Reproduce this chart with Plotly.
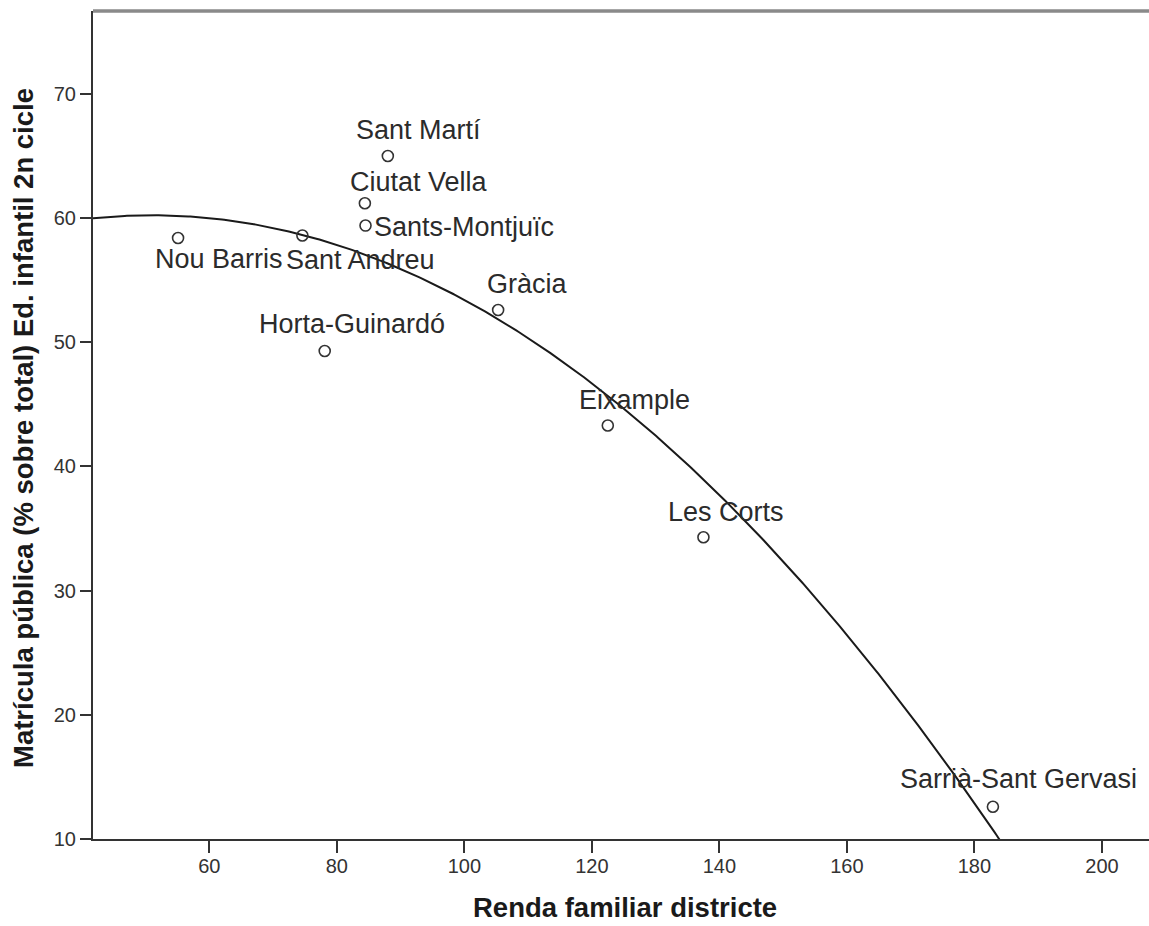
import numpy as np
import plotly.graph_objects as go

# ---- data ----
districts = ["Nou Barris", "Sant Andreu", "Sant Martí", "Ciutat Vella", "Sants-Montjuïc",
             "Horta-Guinardó", "Gràcia", "Eixample", "Les Corts", "Sarrià-Sant Gervasi"]
renda = [55.1, 74.6, 88.0, 84.4, 84.5, 78.1, 105.3, 122.5, 137.5, 182.9]
matricula = [58.4, 58.6, 65.0, 61.2, 59.4, 49.3, 52.6, 43.3, 34.3, 12.6]
x_ticks = [60, 80, 100, 120, 140, 160, 180, 200]
y_ticks = [10, 20, 30, 40, 50, 60, 70]
x_title = "Renda familiar districte"
y_title = "Matrícula pública (% sobre total) Ed. infantil 2n cicle"

# ---- style ----
x_range = [41.76, 207.38]
y_range = [10, 76.68]
label_dx = [-23, -16, -32, -15, 8, -66, -11, -29, -35, -93]
label_dy = [-21, -24, 26, 21, -1, 27, 26, 26, 25, 28]
FONT = "Liberation Sans, Arial, sans-serif"
DARK = "#333333"

# quadratic fit line (as in the original chart)
coef = np.polyfit(renda, matricula, 2)
xs = np.linspace(x_range[0], x_range[1], 500)
ys = np.polyval(coef, xs)

fig = go.Figure()
fig.add_trace(go.Scatter(x=xs, y=ys, mode="lines",
                         line=dict(color="#1a1a1a", width=2), hoverinfo="skip",
                         showlegend=False))
fig.add_trace(go.Scatter(x=renda, y=matricula, mode="markers",
                         marker=dict(symbol="circle-open", size=11,
                                     color=DARK, line=dict(width=1.6, color=DARK)),
                         showlegend=False, cliponaxis=False))

for name, xv, yv, dx, dy in zip(districts, renda, matricula, label_dx, label_dy):
    fig.add_annotation(x=xv, y=yv, xref="x", yref="y", text=name, showarrow=False,
                       xanchor="left", yanchor="middle", xshift=dx - 2, yshift=dy,
                       font=dict(family=FONT, size=27, color="#2b2b2b"))

# axis titles
fig.add_annotation(x=0.5, y=0, xref="paper", yref="paper", text="<b>%s</b>" % x_title,
                   showarrow=False, xanchor="center", yanchor="middle",
                   xshift=4, yshift=-68,
                   font=dict(family=FONT, size=27.5, color="#1a1a1a"))
fig.add_annotation(x=0, y=0.5, xref="paper", yref="paper", text="<b>%s</b>" % y_title,
                   showarrow=False, xanchor="center", yanchor="middle", textangle=-90,
                   xshift=-70, yshift=-3,
                   font=dict(family=FONT, size=27.5, color="#1a1a1a"))

# gray top border
fig.add_shape(type="line", xref="paper", yref="paper", x0=0, x1=1, y0=1, y1=1,
              line=dict(color="#8a8a8a", width=3.5))

fig.update_xaxes(range=x_range, tickvals=x_ticks, ticks="outside", ticklen=12,
                 tickwidth=2, tickcolor=DARK, showline=True, linecolor=DARK, linewidth=2,
                 showgrid=False, zeroline=False, ticklabelstandoff=-4,
                 tickfont=dict(family=FONT, size=20, color=DARK))
fig.update_yaxes(range=y_range, tickvals=y_ticks, ticks="outside", ticklen=11,
                 tickwidth=2, tickcolor=DARK, showline=True, linecolor=DARK, linewidth=2,
                 showgrid=False, zeroline=False,
                 tickfont=dict(family=FONT, size=20, color=DARK))

fig.update_layout(width=1149, height=926, margin=dict(l=93, r=0, t=11, b=87),
                  plot_bgcolor="white", paper_bgcolor="white", showlegend=False)

# remove the default page margin so the figure fills the window exactly
fig.write_html("out.html", config={"displayModeBar": False},
               post_script="document.body.style.margin='0';"
                           "document.body.style.overflow='hidden';")
